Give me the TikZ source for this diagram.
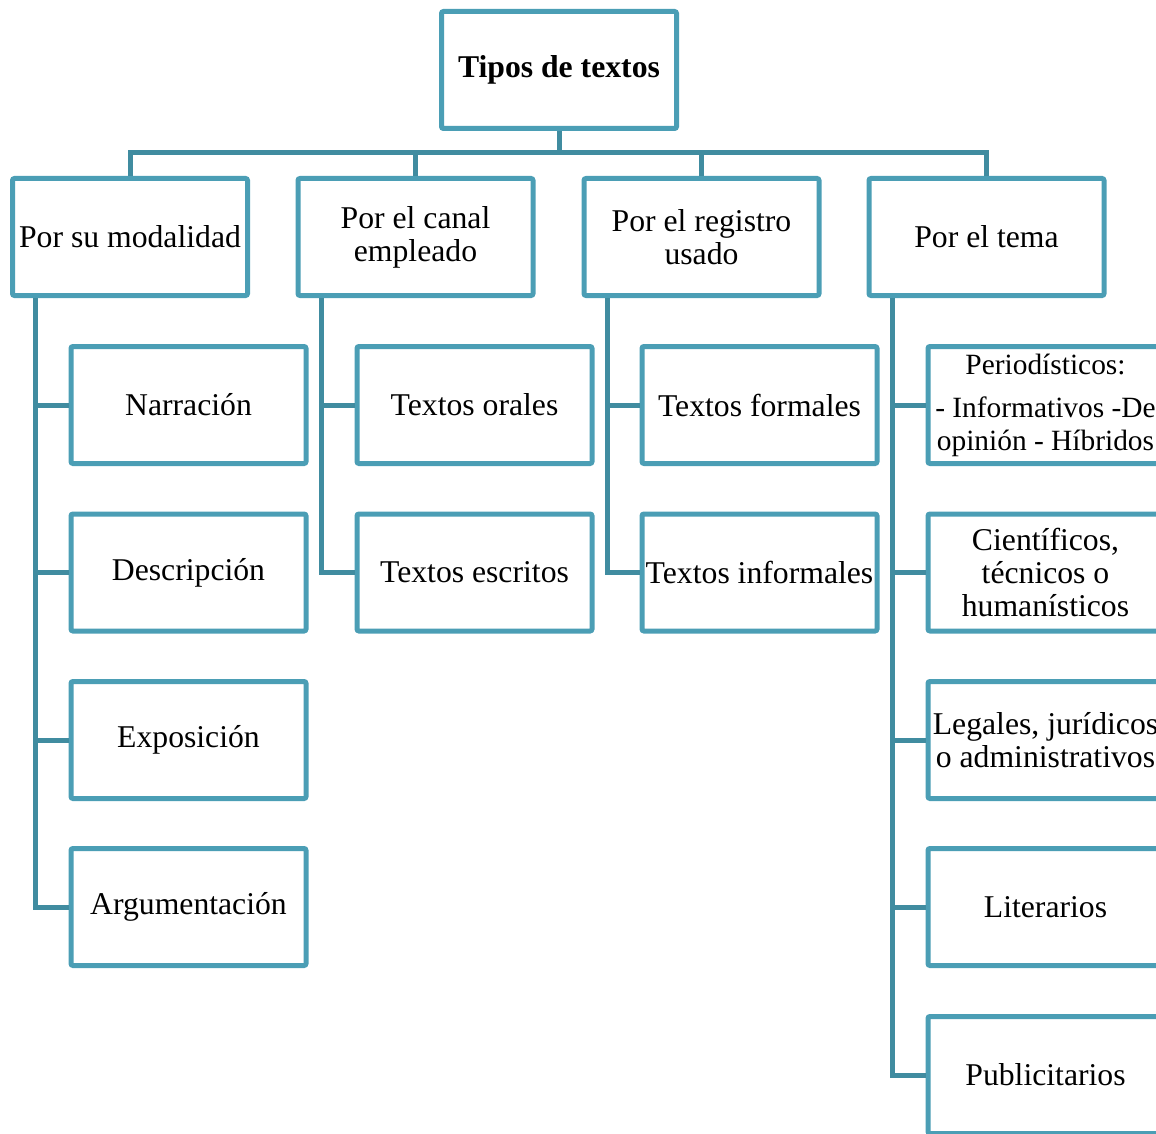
\documentclass[tikz,border=0pt]{standalone}
\usepackage{fontspec}
\setmainfont{Liberation Serif}
\usetikzlibrary{calc}
\definecolor{boxc}{RGB}{75,158,181}
\definecolor{linec}{RGB}{64,140,160}
\begin{document}
\begin{tikzpicture}[x=1pt,y=-1pt,
 box/.style={draw=boxc, line width=5pt, fill=white, rounded corners=2pt, minimum width=235pt, minimum height=117pt, inner sep=0pt, align=center, font=\fontsize{31.7}{33}\selectfont},
 conn/.style={draw=linec, line width=5pt}]
\useasboundingbox (0,0) rectangle (1156,1134);
\clip (0,0) rectangle (1156,1134);
% root and level 1
\node[box, font=\bfseries\fontsize{31.7}{33}\selectfont] (root) at (559,70) {Tipos de textos};
\node[box] (A) at (130,237) {Por su modalidad};
\node[box] (B) at (415.5,237) {Por el canal\\empleado};
\node[box] (C) at (701.5,237) {Por el registro\\usado};
\node[box] (D) at (986.5,237) {Por el tema};
% column A
\node[box] (A1) at (188.5,405) {Narración};
\node[box] (A2) at (188.5,572.5) {Descripción};
\node[box] (A3) at (188.5,740) {Exposición};
\node[box] (A4) at (188.5,907) {Argumentación};
% column B
\node[box] (B1) at (474.5,405) {Textos orales};
\node[box] (B2) at (474.5,572.5) {Textos escritos};
% column C
\node[box] (C1) at (759.5,405) {Textos formales};
\node[box] (C2) at (759.5,572.5) {Textos informales};
% column D
\node[box] (D1) at (1045.5,405) {{\fontsize{29.4}{30}\selectfont Periodísticos:}\\[10pt]{\fontsize{29.4}{30}\selectfont - Informativos -De}\\{\fontsize{29.4}{30}\selectfont opinión - Híbridos}};
\node[box] (D2) at (1045.5,572.5) {Científicos,\\técnicos o\\humanísticos};
\node[box] (D3) at (1045.5,740) {Legales, jurídicos\\o administrativos};
\node[box] (D4) at (1045.5,907) {Literarios};
\node[box] (D5) at (1045.5,1075) {Publicitarios};
% connectors top
\path (A.north) ++(0,-23) coordinate (bus);
\draw[conn] (root.south) -- (root.south |- bus);
\draw[conn] (A.north) -- (bus) -| (D.north);
\draw[conn] (B.north) -- (B.north |- bus);
\draw[conn] (C.north) -- (C.north |- bus);
% spines
\coordinate (sA) at ($(A.south west)+(25.5,0)$);
\coordinate (sB) at ($(B.south west)+(25.5,0)$);
\coordinate (sC) at ($(C.south west)+(25.5,0)$);
\coordinate (sD) at ($(D.south west)+(25.5,0)$);
\draw[conn] (sA) |- (A4.west);
\draw[conn] (A1.west) -- (A1.west -| sA);
\draw[conn] (A2.west) -- (A2.west -| sA);
\draw[conn] (A3.west) -- (A3.west -| sA);
\draw[conn] (sB) |- (B2.west);
\draw[conn] (B1.west) -- (B1.west -| sB);
\draw[conn] (sC) |- (C2.west);
\draw[conn] (C1.west) -- (C1.west -| sC);
\draw[conn] (sD) |- (D5.west);
\draw[conn] (D1.west) -- (D1.west -| sD);
\draw[conn] (D2.west) -- (D2.west -| sD);
\draw[conn] (D3.west) -- (D3.west -| sD);
\draw[conn] (D4.west) -- (D4.west -| sD);
\end{tikzpicture}
\end{document}
